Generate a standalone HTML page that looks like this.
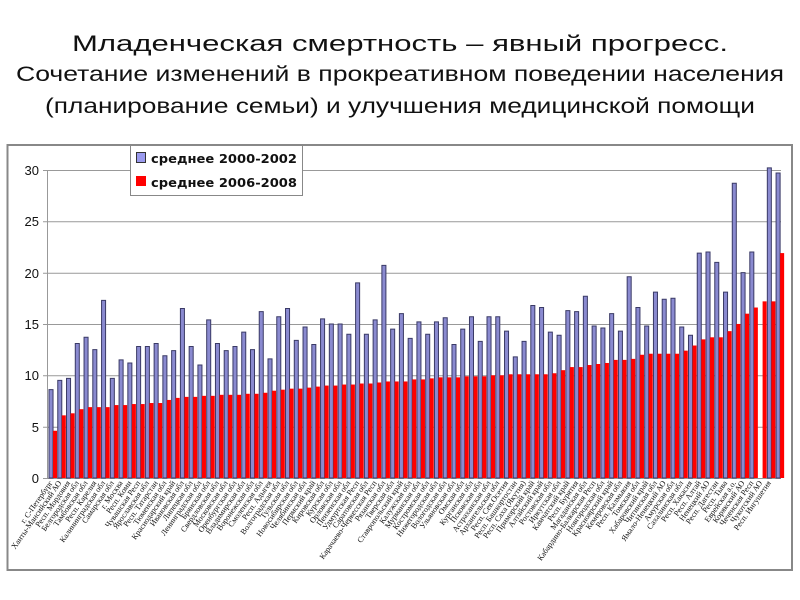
<!DOCTYPE html>
<html><head><meta charset="utf-8"><style>
html,body{margin:0;padding:0;background:#fff;width:800px;height:600px;overflow:hidden}
svg{display:block}
</style></head><body>
<svg width="800" height="600" xmlns="http://www.w3.org/2000/svg">
<g font-family="Liberation Sans, sans-serif" fill="#111" text-anchor="middle">
<text x="400" y="51" font-size="22" textLength="656" lengthAdjust="spacingAndGlyphs">Младенческая смертность – явный прогресс.</text>
<text x="400" y="81" font-size="21" textLength="768" lengthAdjust="spacingAndGlyphs">Сочетание изменений в прокреативном поведении населения</text>
<text x="400" y="113" font-size="21" textLength="710" lengthAdjust="spacingAndGlyphs">(планирование семьи) и улучшения медицинской помощи</text>
</g>
<rect x="7.5" y="145" width="784.5" height="425" fill="#fff" stroke="#888" stroke-width="2"/>
<g stroke="#999" stroke-width="1">
<line x1="43" y1="170.5" x2="781" y2="170.5"/>
<line x1="43" y1="221.8" x2="781" y2="221.8"/>
<line x1="43" y1="273.2" x2="781" y2="273.2"/>
<line x1="43" y1="324.5" x2="781" y2="324.5"/>
<line x1="43" y1="375.8" x2="781" y2="375.8"/>
<line x1="43" y1="427.2" x2="781" y2="427.2"/>
<line x1="47.5" y1="170" x2="47.5" y2="479"/>
<line x1="43" y1="478.5" x2="781" y2="478.5"/>
</g>
<g font-family="Liberation Sans, sans-serif" font-size="13" text-anchor="end" fill="#111">
<text x="39" y="175">30</text><text x="39" y="226">25</text><text x="39" y="278">20</text>
<text x="39" y="329">15</text><text x="39" y="380">10</text><text x="39" y="432">5</text><text x="39" y="483">0</text>
</g>
<g transform="translate(49,478) scale(8.76,-10.27)">
<g fill="#8a8ad0" stroke="#3a3a66" stroke-width="1">
<rect vector-effect="non-scaling-stroke" x="0" width="0.46" height="8.6"/>
<rect vector-effect="non-scaling-stroke" x="1" width="0.46" height="9.5"/>
<rect vector-effect="non-scaling-stroke" x="2" width="0.46" height="9.7"/>
<rect vector-effect="non-scaling-stroke" x="3" width="0.46" height="13.1"/>
<rect vector-effect="non-scaling-stroke" x="4" width="0.46" height="13.7"/>
<rect vector-effect="non-scaling-stroke" x="5" width="0.46" height="12.5"/>
<rect vector-effect="non-scaling-stroke" x="6" width="0.46" height="17.3"/>
<rect vector-effect="non-scaling-stroke" x="7" width="0.46" height="9.7"/>
<rect vector-effect="non-scaling-stroke" x="8" width="0.46" height="11.5"/>
<rect vector-effect="non-scaling-stroke" x="9" width="0.46" height="11.2"/>
<rect vector-effect="non-scaling-stroke" x="10" width="0.46" height="12.8"/>
<rect vector-effect="non-scaling-stroke" x="11" width="0.46" height="12.8"/>
<rect vector-effect="non-scaling-stroke" x="12" width="0.46" height="13.1"/>
<rect vector-effect="non-scaling-stroke" x="13" width="0.46" height="11.9"/>
<rect vector-effect="non-scaling-stroke" x="14" width="0.46" height="12.4"/>
<rect vector-effect="non-scaling-stroke" x="15" width="0.46" height="16.5"/>
<rect vector-effect="non-scaling-stroke" x="16" width="0.46" height="12.8"/>
<rect vector-effect="non-scaling-stroke" x="17" width="0.46" height="11.0"/>
<rect vector-effect="non-scaling-stroke" x="18" width="0.46" height="15.4"/>
<rect vector-effect="non-scaling-stroke" x="19" width="0.46" height="13.1"/>
<rect vector-effect="non-scaling-stroke" x="20" width="0.46" height="12.4"/>
<rect vector-effect="non-scaling-stroke" x="21" width="0.46" height="12.8"/>
<rect vector-effect="non-scaling-stroke" x="22" width="0.46" height="14.2"/>
<rect vector-effect="non-scaling-stroke" x="23" width="0.46" height="12.5"/>
<rect vector-effect="non-scaling-stroke" x="24" width="0.46" height="16.2"/>
<rect vector-effect="non-scaling-stroke" x="25" width="0.46" height="11.6"/>
<rect vector-effect="non-scaling-stroke" x="26" width="0.46" height="15.7"/>
<rect vector-effect="non-scaling-stroke" x="27" width="0.46" height="16.5"/>
<rect vector-effect="non-scaling-stroke" x="28" width="0.46" height="13.4"/>
<rect vector-effect="non-scaling-stroke" x="29" width="0.46" height="14.7"/>
<rect vector-effect="non-scaling-stroke" x="30" width="0.46" height="13.0"/>
<rect vector-effect="non-scaling-stroke" x="31" width="0.46" height="15.5"/>
<rect vector-effect="non-scaling-stroke" x="32" width="0.46" height="15.0"/>
<rect vector-effect="non-scaling-stroke" x="33" width="0.46" height="15.0"/>
<rect vector-effect="non-scaling-stroke" x="34" width="0.46" height="14.0"/>
<rect vector-effect="non-scaling-stroke" x="35" width="0.46" height="19.0"/>
<rect vector-effect="non-scaling-stroke" x="36" width="0.46" height="14.0"/>
<rect vector-effect="non-scaling-stroke" x="37" width="0.46" height="15.4"/>
<rect vector-effect="non-scaling-stroke" x="38" width="0.46" height="20.7"/>
<rect vector-effect="non-scaling-stroke" x="39" width="0.46" height="14.5"/>
<rect vector-effect="non-scaling-stroke" x="40" width="0.46" height="16.0"/>
<rect vector-effect="non-scaling-stroke" x="41" width="0.46" height="13.6"/>
<rect vector-effect="non-scaling-stroke" x="42" width="0.46" height="15.2"/>
<rect vector-effect="non-scaling-stroke" x="43" width="0.46" height="14.0"/>
<rect vector-effect="non-scaling-stroke" x="44" width="0.46" height="15.2"/>
<rect vector-effect="non-scaling-stroke" x="45" width="0.46" height="15.6"/>
<rect vector-effect="non-scaling-stroke" x="46" width="0.46" height="13.0"/>
<rect vector-effect="non-scaling-stroke" x="47" width="0.46" height="14.5"/>
<rect vector-effect="non-scaling-stroke" x="48" width="0.46" height="15.7"/>
<rect vector-effect="non-scaling-stroke" x="49" width="0.46" height="13.3"/>
<rect vector-effect="non-scaling-stroke" x="50" width="0.46" height="15.7"/>
<rect vector-effect="non-scaling-stroke" x="51" width="0.46" height="15.7"/>
<rect vector-effect="non-scaling-stroke" x="52" width="0.46" height="14.3"/>
<rect vector-effect="non-scaling-stroke" x="53" width="0.46" height="11.8"/>
<rect vector-effect="non-scaling-stroke" x="54" width="0.46" height="13.3"/>
<rect vector-effect="non-scaling-stroke" x="55" width="0.46" height="16.8"/>
<rect vector-effect="non-scaling-stroke" x="56" width="0.46" height="16.6"/>
<rect vector-effect="non-scaling-stroke" x="57" width="0.46" height="14.2"/>
<rect vector-effect="non-scaling-stroke" x="58" width="0.46" height="13.9"/>
<rect vector-effect="non-scaling-stroke" x="59" width="0.46" height="16.3"/>
<rect vector-effect="non-scaling-stroke" x="60" width="0.46" height="16.2"/>
<rect vector-effect="non-scaling-stroke" x="61" width="0.46" height="17.7"/>
<rect vector-effect="non-scaling-stroke" x="62" width="0.46" height="14.8"/>
<rect vector-effect="non-scaling-stroke" x="63" width="0.46" height="14.6"/>
<rect vector-effect="non-scaling-stroke" x="64" width="0.46" height="16.0"/>
<rect vector-effect="non-scaling-stroke" x="65" width="0.46" height="14.3"/>
<rect vector-effect="non-scaling-stroke" x="66" width="0.46" height="19.6"/>
<rect vector-effect="non-scaling-stroke" x="67" width="0.46" height="16.6"/>
<rect vector-effect="non-scaling-stroke" x="68" width="0.46" height="14.8"/>
<rect vector-effect="non-scaling-stroke" x="69" width="0.46" height="18.1"/>
<rect vector-effect="non-scaling-stroke" x="70" width="0.46" height="17.4"/>
<rect vector-effect="non-scaling-stroke" x="71" width="0.46" height="17.5"/>
<rect vector-effect="non-scaling-stroke" x="72" width="0.46" height="14.7"/>
<rect vector-effect="non-scaling-stroke" x="73" width="0.46" height="13.9"/>
<rect vector-effect="non-scaling-stroke" x="74" width="0.46" height="21.9"/>
<rect vector-effect="non-scaling-stroke" x="75" width="0.46" height="22.0"/>
<rect vector-effect="non-scaling-stroke" x="76" width="0.46" height="21.0"/>
<rect vector-effect="non-scaling-stroke" x="77" width="0.46" height="18.1"/>
<rect vector-effect="non-scaling-stroke" x="78" width="0.46" height="28.7"/>
<rect vector-effect="non-scaling-stroke" x="79" width="0.46" height="20.0"/>
<rect vector-effect="non-scaling-stroke" x="80" width="0.46" height="22.0"/>
<rect vector-effect="non-scaling-stroke" x="82" width="0.46" height="30.2"/>
<rect vector-effect="non-scaling-stroke" x="83" width="0.46" height="29.7"/>
</g>
<g fill="#f00">
<rect x="0.46" width="0.46" height="4.6"/><rect x="1.46" width="0.46" height="6.1"/>
<rect x="2.46" width="0.46" height="6.3"/><rect x="3.46" width="0.46" height="6.7"/>
<rect x="4.46" width="0.46" height="6.9"/><rect x="5.46" width="0.46" height="6.9"/>
<rect x="6.46" width="0.46" height="6.9"/><rect x="7.46" width="0.46" height="7.1"/>
<rect x="8.46" width="0.46" height="7.1"/><rect x="9.46" width="0.46" height="7.2"/>
<rect x="10.46" width="0.46" height="7.2"/><rect x="11.46" width="0.46" height="7.3"/>
<rect x="12.46" width="0.46" height="7.3"/><rect x="13.46" width="0.46" height="7.6"/>
<rect x="14.46" width="0.46" height="7.8"/><rect x="15.46" width="0.46" height="7.9"/>
<rect x="16.46" width="0.46" height="7.9"/><rect x="17.46" width="0.46" height="8.0"/>
<rect x="18.46" width="0.46" height="8.0"/><rect x="19.46" width="0.46" height="8.1"/>
<rect x="20.46" width="0.46" height="8.1"/><rect x="21.46" width="0.46" height="8.1"/>
<rect x="22.46" width="0.46" height="8.2"/><rect x="23.46" width="0.46" height="8.2"/>
<rect x="24.46" width="0.46" height="8.3"/><rect x="25.46" width="0.46" height="8.5"/>
<rect x="26.46" width="0.46" height="8.6"/><rect x="27.46" width="0.46" height="8.7"/>
<rect x="28.46" width="0.46" height="8.7"/><rect x="29.46" width="0.46" height="8.8"/>
<rect x="30.46" width="0.46" height="8.9"/><rect x="31.46" width="0.46" height="9.0"/>
<rect x="32.46" width="0.46" height="9.0"/><rect x="33.46" width="0.46" height="9.1"/>
<rect x="34.46" width="0.46" height="9.1"/><rect x="35.46" width="0.46" height="9.2"/>
<rect x="36.46" width="0.46" height="9.2"/><rect x="37.46" width="0.46" height="9.3"/>
<rect x="38.46" width="0.46" height="9.4"/><rect x="39.46" width="0.46" height="9.4"/>
<rect x="40.46" width="0.46" height="9.4"/><rect x="41.46" width="0.46" height="9.6"/>
<rect x="42.46" width="0.46" height="9.6"/><rect x="43.46" width="0.46" height="9.7"/>
<rect x="44.46" width="0.46" height="9.8"/><rect x="45.46" width="0.46" height="9.8"/>
<rect x="46.46" width="0.46" height="9.8"/><rect x="47.46" width="0.46" height="9.9"/>
<rect x="48.46" width="0.46" height="9.9"/><rect x="49.46" width="0.46" height="9.9"/>
<rect x="50.46" width="0.46" height="10.0"/><rect x="51.46" width="0.46" height="10.0"/>
<rect x="52.46" width="0.46" height="10.1"/><rect x="53.46" width="0.46" height="10.1"/>
<rect x="54.46" width="0.46" height="10.1"/><rect x="55.46" width="0.46" height="10.1"/>
<rect x="56.46" width="0.46" height="10.1"/><rect x="57.46" width="0.46" height="10.2"/>
<rect x="58.46" width="0.46" height="10.5"/><rect x="59.46" width="0.46" height="10.8"/>
<rect x="60.46" width="0.46" height="10.8"/><rect x="61.46" width="0.46" height="11.0"/>
<rect x="62.46" width="0.46" height="11.1"/><rect x="63.46" width="0.46" height="11.2"/>
<rect x="64.46" width="0.46" height="11.5"/><rect x="65.46" width="0.46" height="11.5"/>
<rect x="66.46" width="0.46" height="11.6"/><rect x="67.46" width="0.46" height="12.0"/>
<rect x="68.46" width="0.46" height="12.1"/><rect x="69.46" width="0.46" height="12.1"/>
<rect x="70.46" width="0.46" height="12.1"/><rect x="71.46" width="0.46" height="12.1"/>
<rect x="72.46" width="0.46" height="12.4"/><rect x="73.46" width="0.46" height="12.9"/>
<rect x="74.46" width="0.46" height="13.5"/><rect x="75.46" width="0.46" height="13.7"/>
<rect x="76.46" width="0.46" height="13.7"/><rect x="77.46" width="0.46" height="14.3"/>
<rect x="78.46" width="0.46" height="15.0"/><rect x="79.46" width="0.46" height="16.0"/>
<rect x="80.46" width="0.46" height="16.6"/><rect x="81.46" width="0.46" height="17.2"/>
<rect x="82.46" width="0.46" height="17.2"/><rect x="83.46" width="0.46" height="21.9"/>
</g>
</g>
<rect x="130.5" y="145.5" width="172" height="50" fill="#fff" stroke="#888"/>
<rect x="136.5" y="152.5" width="9" height="10" fill="#9a9aee" stroke="#333"/>
<rect x="136" y="176" width="10" height="10" fill="#f00"/>
<g font-family="DejaVu Sans, sans-serif" font-size="12.5" font-weight="bold" fill="#111">
<text x="151" y="163" textLength="146" lengthAdjust="spacingAndGlyphs">среднее 2000-2002</text>
<text x="151" y="187" textLength="146" lengthAdjust="spacingAndGlyphs">среднее 2006-2008</text>
</g>
<g font-family="Liberation Serif, serif" font-size="8" fill="#111" text-anchor="end">
<text transform="translate(53,483) rotate(-55)">г. С-Петербург</text>
<text transform="translate(61.8,483) rotate(-55)">Ханты-Мансийский АО</text>
<text transform="translate(70.5,483) rotate(-55)">Респ. Мордовия</text>
<text transform="translate(79.3,483) rotate(-55)">Белгородская обл</text>
<text transform="translate(88,483) rotate(-55)">Тамбовская обл</text>
<text transform="translate(96.8,483) rotate(-55)">Респ. Карелия</text>
<text transform="translate(105.6,483) rotate(-55)">Калининградская обл</text>
<text transform="translate(114.3,483) rotate(-55)">Самарская обл</text>
<text transform="translate(123.1,483) rotate(-55)">г. Москва</text>
<text transform="translate(131.8,483) rotate(-55)">Респ. Коми</text>
<text transform="translate(140.6,483) rotate(-55)">Чувашская Респ</text>
<text transform="translate(149.4,483) rotate(-55)">Ярославская обл</text>
<text transform="translate(158.1,483) rotate(-55)">Респ. Татарстан</text>
<text transform="translate(166.9,483) rotate(-55)">Тюменская обл</text>
<text transform="translate(175.6,483) rotate(-55)">Краснодарский край</text>
<text transform="translate(184.4,483) rotate(-55)">Ивановская обл</text>
<text transform="translate(193.2,483) rotate(-55)">Липецкая обл</text>
<text transform="translate(201.9,483) rotate(-55)">Ленинградская обл</text>
<text transform="translate(210.7,483) rotate(-55)">Брянская обл</text>
<text transform="translate(219.4,483) rotate(-55)">Свердловская обл</text>
<text transform="translate(228.2,483) rotate(-55)">Московская обл</text>
<text transform="translate(237,483) rotate(-55)">Оренбургская обл</text>
<text transform="translate(245.7,483) rotate(-55)">Владимирская обл</text>
<text transform="translate(254.5,483) rotate(-55)">Воронежская обл</text>
<text transform="translate(263.2,483) rotate(-55)">Смоленская обл</text>
<text transform="translate(272,483) rotate(-55)">Респ. Адыгея</text>
<text transform="translate(280.8,483) rotate(-55)">Волгоградская обл</text>
<text transform="translate(289.5,483) rotate(-55)">Тульская обл</text>
<text transform="translate(298.3,483) rotate(-55)">Новосибирская обл</text>
<text transform="translate(307,483) rotate(-55)">Челябинская обл</text>
<text transform="translate(315.8,483) rotate(-55)">Пермский край</text>
<text transform="translate(324.6,483) rotate(-55)">Кировская обл</text>
<text transform="translate(333.3,483) rotate(-55)">Курская обл</text>
<text transform="translate(342.1,483) rotate(-55)">Орловская обл</text>
<text transform="translate(350.8,483) rotate(-55)">Пензенская обл</text>
<text transform="translate(359.6,483) rotate(-55)">Удмуртская Респ</text>
<text transform="translate(368.4,483) rotate(-55)">Саратовская обл</text>
<text transform="translate(377.1,483) rotate(-55)">Карачаево-Черкесская Респ</text>
<text transform="translate(385.9,483) rotate(-55)">Рязанская обл</text>
<text transform="translate(394.6,483) rotate(-55)">Тверская обл</text>
<text transform="translate(403.4,483) rotate(-55)">Ставропольский край</text>
<text transform="translate(412.2,483) rotate(-55)">Калужская обл</text>
<text transform="translate(420.9,483) rotate(-55)">Мурманская обл</text>
<text transform="translate(429.7,483) rotate(-55)">Костромская обл</text>
<text transform="translate(438.4,483) rotate(-55)">Нижегородская обл</text>
<text transform="translate(447.2,483) rotate(-55)">Вологодская обл</text>
<text transform="translate(456,483) rotate(-55)">Ульяновская обл</text>
<text transform="translate(464.7,483) rotate(-55)">Омская обл</text>
<text transform="translate(473.5,483) rotate(-55)">Курганская обл</text>
<text transform="translate(482.2,483) rotate(-55)">Псковская обл</text>
<text transform="translate(491,483) rotate(-55)">Астраханская обл</text>
<text transform="translate(499.8,483) rotate(-55)">Архангельская обл</text>
<text transform="translate(508.5,483) rotate(-55)">Респ. Сев.Осетия</text>
<text transform="translate(517.3,483) rotate(-55)">Респ. Башкортостан</text>
<text transform="translate(526,483) rotate(-55)">Респ. Саха (Якутия)</text>
<text transform="translate(534.8,483) rotate(-55)">Приморский край</text>
<text transform="translate(543.6,483) rotate(-55)">Алтайский край</text>
<text transform="translate(552.3,483) rotate(-55)">Ростовская обл</text>
<text transform="translate(561.1,483) rotate(-55)">Иркутская обл</text>
<text transform="translate(569.8,483) rotate(-55)">Камчатский край</text>
<text transform="translate(578.6,483) rotate(-55)">Респ. Бурятия</text>
<text transform="translate(587.4,483) rotate(-55)">Магаданская обл</text>
<text transform="translate(596.1,483) rotate(-55)">Кабардино-Балкарская Респ</text>
<text transform="translate(604.9,483) rotate(-55)">Новгородская обл</text>
<text transform="translate(613.6,483) rotate(-55)">Красноярский край</text>
<text transform="translate(622.4,483) rotate(-55)">Кемеровская обл</text>
<text transform="translate(631.2,483) rotate(-55)">Респ. Калмыкия</text>
<text transform="translate(639.9,483) rotate(-55)">Томская обл</text>
<text transform="translate(648.7,483) rotate(-55)">Хабаровский край</text>
<text transform="translate(657.4,483) rotate(-55)">Читинская обл</text>
<text transform="translate(666.2,483) rotate(-55)">Ямало-Ненецкий АО</text>
<text transform="translate(675,483) rotate(-55)">Амурская обл</text>
<text transform="translate(683.7,483) rotate(-55)">Сахалинская обл</text>
<text transform="translate(692.5,483) rotate(-55)">Респ. Хакасия</text>
<text transform="translate(701.2,483) rotate(-55)">Респ. Алтай</text>
<text transform="translate(710,483) rotate(-55)">Ненецкий АО</text>
<text transform="translate(718.8,483) rotate(-55)">Респ. Дагестан</text>
<text transform="translate(727.5,483) rotate(-55)">Респ. Тыва</text>
<text transform="translate(736.3,483) rotate(-55)">Еврейская а.о.</text>
<text transform="translate(745,483) rotate(-55)">Корякский АО</text>
<text transform="translate(753.8,483) rotate(-55)">Чеченская Респ</text>
<text transform="translate(762.6,483) rotate(-55)">Чукотский АО</text>
<text transform="translate(771.3,483) rotate(-55)">Респ. Ингушетия</text>
</g>
</svg>
</body></html>
